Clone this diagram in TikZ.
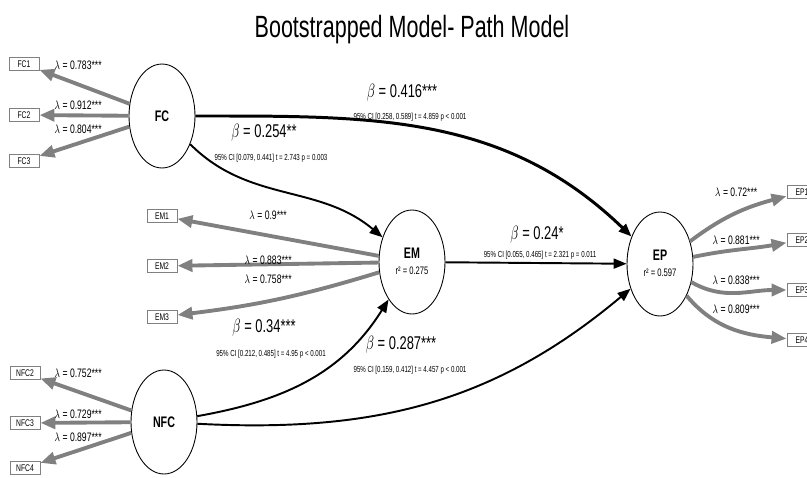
\documentclass[tikz,border=0pt]{standalone}
\usepackage{fontspec}
\setmainfont{Liberation Sans}
\usepackage{graphicx}
\usetikzlibrary{shapes.geometric,arrows.meta}

\definecolor{loadgray}{RGB}{128,128,128}
\newcommand{\sqz}[1]{\scalebox{0.7}[1]{#1}}

\tikzset{
  latent/.style={draw,ellipse,minimum width=1.32cm,minimum height=2.08cm,inner sep=0pt,line width=0.5pt},
  indicator/.style={draw=loadgray,rectangle,minimum width=0.6cm,minimum height=0.27cm,inner sep=0pt,line width=0.5pt,font=\fontsize{5.5}{6}\selectfont},
  loading/.style={draw=loadgray,line width=2.2pt,-{Triangle[length=0.3cm,width=0.24cm]}},
  structpath/.style={line width=1.1pt,-{Triangle[length=0.26cm,width=0.2cm]}},
  lam/.style={font=\fontsize{7}{8}\selectfont},
  beta/.style={font=\fontsize{10.5}{12}\selectfont},
  ci/.style={font=\fontsize{5}{6}\selectfont}
}

\newcommand{\lname}[1]{{\fontsize{8.7}{9}\bfseries\sqz{#1}}}
\newcommand{\outcome}[2]{\raisebox{-0.1cm}{\begin{tabular}{@{}c@{}}\lname{#1}\\[-3pt]{\fontsize{6.2}{6.5}\selectfont\sqz{r² = #2}}\end{tabular}}}

\begin{document}
\begin{tikzpicture}[x=0.02cm,y=0.02cm]

            \clip (0,0) rectangle (807,-477);

            \node (title) [anchor=base] at (412,-37) {\fontsize{17.5}{20}\selectfont\sqz{Bootstrapped Model- Path Model}};

            % constructs
            \node (FC) [latent] at (162,-116) {\lname{FC}};
            \node (EM) [latent] at (412,-262) {\outcome{EM}{0.275}};
            \node (EP) [latent] at (660,-264) {\outcome{EP}{0.597}};
            \node (NFC) [latent] at (164,-422) {\lname{NFC}};

            % indicators
            \node (FC1) [indicator] at (24,-64) {\sqz{FC1}};
            \node (FC2) [indicator] at (24,-115) {\sqz{FC2}};
            \node (FC3) [indicator] at (24,-161) {\sqz{FC3}};

            \node (EM1) [indicator] at (162,-216) {\sqz{EM1}};
            \node (EM2) [indicator] at (162,-266) {\sqz{EM2}};
            \node (EM3) [indicator] at (162,-317) {\sqz{EM3}};

            \node (EP1) [indicator] at (802,-192) {\sqz{EP1}};
            \node (EP2) [indicator] at (802,-240) {\sqz{EP2}};
            \node (EP3) [indicator] at (802,-290) {\sqz{EP3}};
            \node (EP4) [indicator] at (802,-340) {\sqz{EP4}};

            \node (NFC2) [indicator] at (25,-373) {\sqz{NFC2}};
            \node (NFC3) [indicator] at (25,-423) {\sqz{NFC3}};
            \node (NFC4) [indicator] at (25,-468) {\sqz{NFC4}};

            % loadings
            \draw[loading] (FC) -- (FC1);
            \draw[loading] (FC) -- (FC2);
            \draw[loading] (FC) -- (FC3);

            \draw[loading] (EM) -- (EM1);
            \draw[loading] (EM) -- (EM2);
            \draw[loading] (EM) to[bend left=5] (EM3);

            \draw[loading] (EP) to[out=37,in=195] (EP1);
            \draw[loading] (EP) to[out=12,in=190] (EP2);
            \draw[loading] (EP) to[out=-30,in=180] (EP3);
            \draw[loading] (EP) to[out=-50,in=175] (EP4);

            \draw[loading] (NFC) -- (NFC2);
            \draw[loading] (NFC) -- (NFC3);
            \draw[loading] (NFC) -- (NFC4);

            % paths
            \draw[structpath,line width=1.7pt] (FC) to[out=0,in=136] (EP);
            \draw[structpath] (FC) to[out=-45,in=140] (EM);
            \draw[structpath] (EM) -- (EP);
            \draw[structpath] (NFC) to[out=10,in=-122] (EM);
            \draw[structpath] (NFC) to[out=-3,in=-140] (EP);

            % loading labels
            \node (lFC1) [lam] at (78,-65) {\sqz{$\lambda$ = 0.783***}};
            \node (lFC2) [lam] at (78,-105) {\sqz{$\lambda$ = 0.912***}};
            \node (lFC3) [lam] at (78,-129) {\sqz{$\lambda$ = 0.804***}};

            \node (lEM1) [lam] at (268,-215) {\sqz{$\lambda$ = 0.9***}};
            \node (lEM2) [lam] at (268,-260) {\sqz{$\lambda$ = 0.883***}};
            \node (lEM3) [lam] at (268,-279) {\sqz{$\lambda$ = 0.758***}};

            \node (lEP1) [lam] at (736,-192) {\sqz{$\lambda$ = 0.72***}};
            \node (lEP2) [lam] at (736,-240) {\sqz{$\lambda$ = 0.881***}};
            \node (lEP3) [lam] at (736,-280) {\sqz{$\lambda$ = 0.838***}};
            \node (lEP4) [lam] at (736,-309) {\sqz{$\lambda$ = 0.809***}};

            \node (lNFC2) [lam] at (78,-373) {\sqz{$\lambda$ = 0.752***}};
            \node (lNFC3) [lam] at (78,-414) {\sqz{$\lambda$ = 0.729***}};
            \node (lNFC4) [lam] at (78,-437) {\sqz{$\lambda$ = 0.897***}};

            % path labels
            \node (bFCEP) [beta] at (402,-93) {\sqz{$\beta$ = 0.416***}};
            \node (cFCEP) [ci] at (410,-117) {\sqz{95\% CI [0.258, 0.589] t = 4.859 p < 0.001}};

            \node (bFCEM) [beta] at (264,-133) {\sqz{$\beta$ = 0.254**}};
            \node (cFCEM) [ci] at (271,-158) {\sqz{95\% CI [0.079, 0.441] t = 2.743 p = 0.003}};

            \node (bEMEP) [beta] at (537,-235) {\sqz{$\beta$ = 0.24*}};
            \node (cEMEP) [ci] at (540,-255) {\sqz{95\% CI [0.055, 0.465] t = 2.321 p = 0.011}};

            \node (bNFCEM) [beta] at (264,-328) {\sqz{$\beta$ = 0.34***}};
            \node (cNFCEM) [ci] at (271,-354) {\sqz{95\% CI [0.212, 0.485] t = 4.95 p < 0.001}};

            \node (bNFCEP) [beta] at (401,-345) {\sqz{$\beta$ = 0.287***}};
            \node (cNFCEP) [ci] at (410,-370) {\sqz{95\% CI [0.159, 0.412] t = 4.457 p < 0.001}};

        \end{tikzpicture}
\end{document}
